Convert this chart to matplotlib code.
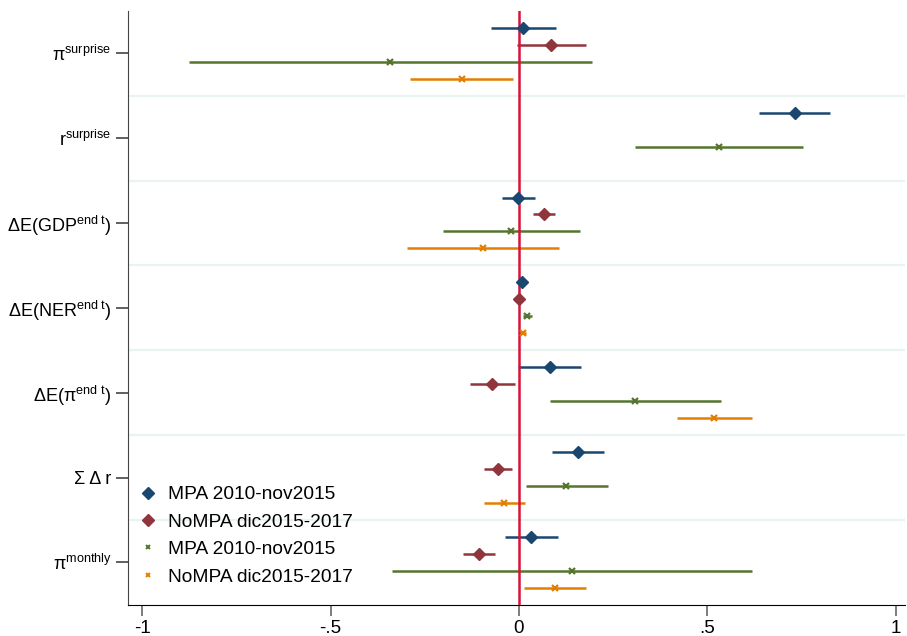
import numpy as np
import matplotlib.pyplot as plt
from matplotlib.lines import Line2D

plt.rcParams['font.family'] = ['Liberation Sans', 'DejaVu Sans']
plt.rcParams['mathtext.fontset'] = 'custom'
plt.rcParams['mathtext.rm'] = 'Liberation Sans'
plt.rcParams['mathtext.it'] = 'Liberation Sans:italic'
plt.rcParams['mathtext.sf'] = 'Liberation Sans'

# grupos (de arriba hacia abajo)
labels = ['π$^{\\mathrm{surprise}}$',
          'r$^{\\mathrm{surprise}}$',
          'ΔE(GDP$^{\\mathrm{end\\ t}}$)',
          'ΔE(NER$^{\\mathrm{end\\ t}}$)',
          'ΔE(π$^{\\mathrm{end\\ t}}$)',
          'Σ Δ r',
          'π$^{\\mathrm{monthly}}$']

nan = np.nan
# coeficiente, límite inferior, límite superior
mpa_b  = [0.011, 0.733, -0.002, 0.007, 0.082, 0.156, 0.033]
mpa_lo = [-0.073, 0.637, -0.046, 0.003, -0.002, 0.087, -0.038]
mpa_hi = [0.098, 0.826, 0.042, 0.011, 0.165, 0.226, 0.103]

nompa_b  = [0.086, nan, 0.067, 0.000, -0.071, -0.055, -0.106]
nompa_lo = [-0.004, nan, 0.037, -0.004, -0.130, -0.094, -0.149]
nompa_hi = [0.177, nan, 0.095, 0.004, -0.011, -0.018, -0.064]

mpa2_b  = [-0.342, 0.531, -0.021, 0.021, 0.309, 0.125, 0.141]
mpa2_lo = [-0.877, 0.308, -0.202, 0.010, 0.082, 0.019, -0.338]
mpa2_hi = [0.195, 0.753, 0.162, 0.034, 0.536, 0.235, 0.619]

nompa2_b  = [-0.152, nan, -0.096, 0.010, 0.518, -0.041, 0.096]
nompa2_lo = [-0.289, nan, -0.298, 0.002, 0.419, -0.094, 0.013]
nompa2_hi = [-0.017, nan, 0.106, 0.018, 0.619, 0.015, 0.178]

series = [
    ('MPA 2010-nov2015', mpa_b, mpa_lo, mpa_hi, '#1a476f', 'D', 6.5),
    ('NoMPA dic2015-2017', nompa_b, nompa_lo, nompa_hi, '#90353b', 'D', 6.5),
    ('MPA 2010-nov2015', mpa2_b, mpa2_lo, mpa2_hi, '#55752f', 'x', 4),
    ('NoMPA dic2015-2017', nompa2_b, nompa2_lo, nompa2_hi, '#e37e00', 'x', 4),
]
offsets = [-0.3, -0.1, 0.1, 0.3]

fig = plt.figure(figsize=(9.07, 6.36), dpi=100)
ax = fig.add_axes([0.141, 0.049, 0.857, 0.934])

pos = np.arange(1, len(labels) + 1)

# separadores entre grupos
for yy in pos[:-1] + 0.5:
    ax.axhline(yy, color='#eaf2f3', lw=1.6, zorder=1)

handles = []
for (name, b, lo, hi, col, mk, ms), off in zip(series, offsets):
    y = pos + off
    ax.hlines(y, lo, hi, color=col, lw=1.8, zorder=2)
    ax.plot(b, y, linestyle='none', marker=mk, color=col, markersize=ms,
            markeredgewidth=1.6 if mk == 'x' else 1, zorder=4)
    handles.append(Line2D([], [], linestyle='none', marker=mk, color=col,
                          markersize=ms - 0.5 if mk == 'D' else 3.5,
                          markeredgewidth=1.4 if mk == 'x' else 1, label=name))

ax.axvline(0, color='#d6133a', lw=1.8, zorder=3)

ax.set_xlim(-1.038, 1.025)
ax.set_ylim(7.5, 0.5)
ax.set_xticks([-1, -0.5, 0, 0.5, 1])
ax.set_xticklabels(['-1', '-.5', '0', '.5', '1'])
ax.set_yticks(pos)
ax.set_yticklabels(labels)

ax.spines['top'].set_visible(False)
ax.spines['right'].set_visible(False)
ax.spines['left'].set_color('#444444')
ax.spines['bottom'].set_color('black')
ax.tick_params(axis='y', length=9, width=1.2, color='#444444', labelsize=13, pad=3)
ax.tick_params(axis='x', length=8, width=1.2, color='#666666', labelsize=13.5, pad=3)

ax.legend(handles=handles, loc='lower left', bbox_to_anchor=(-0.008, 0.005),
          frameon=False, fontsize=13.8, handlelength=1.0, handletextpad=0.55,
          labelspacing=0.52, borderaxespad=0.45)

fig.savefig('out.png', dpi=100)
